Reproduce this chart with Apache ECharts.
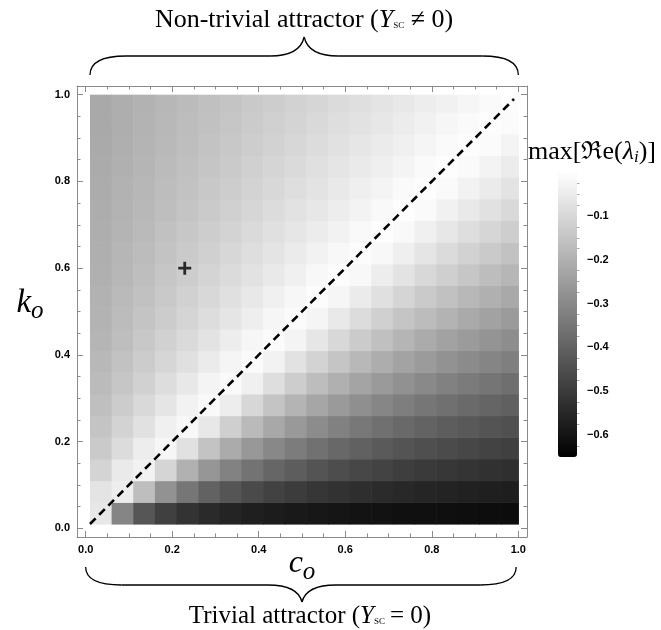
<!DOCTYPE html>
<html><head><meta charset="utf-8">
<script src="https://cdn.jsdelivr.net/npm/echarts@6/dist/echarts.min.js"></script>
<style>html,body{margin:0;padding:0;background:#fff}#c{width:661px;height:630px}</style>
</head><body><div id="c"></div>
<script>
// ---- data ----
const cCenters = [0.035,0.085,0.135,0.185,0.235,0.285,0.335,0.385,0.435,0.485,0.535,0.585,0.635,0.685,0.735,0.785,0.835,0.885,0.935,0.985];
const kCenters = [0.035,0.085,0.135,0.185,0.235,0.285,0.335,0.385,0.435,0.485,0.535,0.585,0.635,0.685,0.735,0.785,0.835,0.885,0.935,0.985];
// rows: k from low to high; columns: c from low to high  (max Re(lambda_i))
const values = [
[-0.060,-0.312,-0.430,-0.487,-0.520,-0.542,-0.558,-0.570,-0.579,-0.586,-0.592,-0.597,-0.601,-0.605,-0.608,-0.610,-0.613,-0.615,-0.617,-0.619],
[-0.070,-0.047,-0.165,-0.278,-0.349,-0.399,-0.434,-0.461,-0.482,-0.498,-0.512,-0.523,-0.533,-0.541,-0.549,-0.555,-0.561,-0.565,-0.570,-0.574],
[-0.109,-0.054,-0.032,-0.106,-0.200,-0.268,-0.319,-0.358,-0.389,-0.414,-0.435,-0.453,-0.468,-0.480,-0.491,-0.501,-0.509,-0.517,-0.524,-0.530],
[-0.134,-0.089,-0.045,-0.024,-0.077,-0.153,-0.215,-0.263,-0.303,-0.335,-0.362,-0.385,-0.404,-0.421,-0.436,-0.449,-0.460,-0.470,-0.479,-0.488],
[-0.151,-0.113,-0.076,-0.038,-0.019,-0.059,-0.123,-0.177,-0.223,-0.260,-0.292,-0.320,-0.343,-0.364,-0.382,-0.398,-0.412,-0.424,-0.436,-0.446],
[-0.164,-0.131,-0.098,-0.066,-0.033,-0.016,-0.047,-0.101,-0.150,-0.191,-0.228,-0.258,-0.285,-0.309,-0.329,-0.348,-0.365,-0.380,-0.393,-0.406],
[-0.174,-0.145,-0.116,-0.087,-0.058,-0.029,-0.014,-0.039,-0.085,-0.128,-0.167,-0.201,-0.231,-0.257,-0.281,-0.301,-0.320,-0.336,-0.352,-0.366],
[-0.181,-0.155,-0.130,-0.104,-0.078,-0.052,-0.026,-0.012,-0.033,-0.073,-0.112,-0.148,-0.180,-0.208,-0.234,-0.256,-0.277,-0.295,-0.312,-0.327],
[-0.188,-0.165,-0.141,-0.118,-0.094,-0.071,-0.047,-0.024,-0.010,-0.028,-0.064,-0.099,-0.132,-0.161,-0.189,-0.213,-0.236,-0.255,-0.274,-0.290],
[-0.194,-0.172,-0.151,-0.129,-0.108,-0.086,-0.065,-0.043,-0.022,-0.009,-0.025,-0.057,-0.089,-0.119,-0.147,-0.172,-0.195,-0.217,-0.236,-0.255],
[-0.197,-0.177,-0.158,-0.138,-0.118,-0.099,-0.079,-0.059,-0.039,-0.020,-0.008,-0.022,-0.051,-0.080,-0.108,-0.134,-0.158,-0.181,-0.201,-0.219],
[-0.201,-0.183,-0.165,-0.146,-0.128,-0.110,-0.092,-0.073,-0.055,-0.037,-0.018,-0.007,-0.019,-0.046,-0.072,-0.099,-0.123,-0.146,-0.167,-0.187],
[-0.204,-0.187,-0.170,-0.153,-0.136,-0.119,-0.102,-0.085,-0.068,-0.051,-0.034,-0.017,-0.007,-0.017,-0.042,-0.066,-0.091,-0.114,-0.135,-0.155],
[-0.207,-0.191,-0.175,-0.159,-0.143,-0.127,-0.111,-0.095,-0.080,-0.064,-0.048,-0.032,-0.016,-0.006,-0.015,-0.038,-0.061,-0.084,-0.105,-0.126],
[-0.210,-0.195,-0.180,-0.165,-0.150,-0.135,-0.120,-0.105,-0.090,-0.075,-0.060,-0.045,-0.030,-0.015,-0.006,-0.014,-0.035,-0.056,-0.077,-0.098],
[-0.212,-0.197,-0.183,-0.169,-0.155,-0.141,-0.127,-0.113,-0.099,-0.085,-0.071,-0.056,-0.042,-0.028,-0.014,-0.005,-0.013,-0.033,-0.052,-0.072],
[-0.214,-0.201,-0.188,-0.174,-0.161,-0.147,-0.134,-0.121,-0.107,-0.094,-0.080,-0.067,-0.054,-0.040,-0.027,-0.013,-0.005,-0.012,-0.030,-0.048],
[-0.216,-0.203,-0.191,-0.178,-0.165,-0.152,-0.140,-0.127,-0.114,-0.102,-0.089,-0.076,-0.064,-0.051,-0.038,-0.025,-0.013,-0.005,-0.011,-0.028],
[-0.218,-0.206,-0.194,-0.182,-0.169,-0.157,-0.145,-0.133,-0.121,-0.109,-0.097,-0.085,-0.073,-0.061,-0.048,-0.036,-0.024,-0.012,-0.005,-0.011],
[-0.219,-0.207,-0.196,-0.184,-0.173,-0.161,-0.150,-0.138,-0.127,-0.115,-0.104,-0.092,-0.081,-0.069,-0.058,-0.046,-0.035,-0.023,-0.012,-0.004]
];
const diagonalLine = [[0.01,0.01],[0.99,0.99]];
const markerPoint = [[0.229,0.600]];
const frameTicks = [0,0.2,0.4,0.6,0.8,1.0];
const frameMinorTicks = [0.05,0.1,0.15,0.25,0.3,0.35,0.45,0.5,0.55,0.65,0.7,0.75,0.85,0.9,0.95];
const barTicks = [-0.6,-0.5,-0.4,-0.3,-0.2,-0.1];
const barMinorTicks = [-0.625,-0.575,-0.55,-0.525,-0.475,-0.45,-0.425,-0.375,-0.35,-0.325,-0.275,-0.25,-0.225,-0.175,-0.15,-0.125,-0.075,-0.05,-0.025];
const valueMin = -0.65, valueMax = 0;

// ---- build ----
const cells = [];
kCenters.forEach((k,j)=>cCenters.forEach((c,i)=>cells.push([c,k,values[j][i]])));
const halfC = (cCenters[1]-cCenters[0])/2, halfK = (kCenters[1]-kCenters[0])/2;
const extLo = 0.01, extHi = 1.0;

const FRAME = '#8a8a8a';
const labelFont = {fontFamily:'Liberation Sans', fontWeight:'bold', fontSize:11, color:'#000'};
function frameAxis(pos, major, showLabel){
  return {
    type:'value', position:pos, min:-0.02, max:1.02, gridIndex:0,
    axisLine:{show:major, onZero:false, lineStyle:{color:FRAME, width:1}},
    splitLine:{show:false},
    axisTick:{show:true, inside:true, length: major?6:3.5, customValues: major?frameTicks:frameMinorTicks, lineStyle:{color:FRAME, width:1}},
    axisLabel: showLabel ? Object.assign({show:true, customValues: frameTicks, margin:7, formatter: v=>v.toFixed(1)}, labelFont) : {show:false}
  };
}

const option = {
  animation:false,
  backgroundColor:'#fff',
  grid:[
    {left:77, right:134, top:86, bottom:93, show:false},
    {left:558, top:172, width:19, height:285, show:false}
  ],
  xAxis:[
    frameAxis('bottom', true, true),
    frameAxis('bottom', false, false),
    frameAxis('top', true, false),
    frameAxis('top', false, false),
    {type:'value', gridIndex:1, show:false, min:0, max:1}
  ],
  yAxis:[
    frameAxis('left', true, true),
    frameAxis('left', false, false),
    frameAxis('right', true, false),
    frameAxis('right', false, false),
    {type:'value', gridIndex:1, position:'right', min:valueMin, max:valueMax,
     axisLine:{show:false}, splitLine:{show:false},
     axisTick:{show:true, inside:false, length:4, customValues:barTicks, lineStyle:{color:'#999'}},
     axisLabel:Object.assign({show:true, customValues:barTicks, margin:10, formatter:v=>'\u2212'+Math.abs(v).toFixed(1)}, labelFont)},
    {type:'value', gridIndex:1, position:'right', min:valueMin, max:valueMax,
     axisLine:{show:false}, splitLine:{show:false},
     axisTick:{show:true, inside:false, length:2.5, customValues:barMinorTicks, lineStyle:{color:'#aaa'}},
     axisLabel:{show:false}}
  ],
  visualMap:{
    type:'continuous', min:valueMin, max:valueMax, dimension:2, seriesIndex:0,
    calculable:false, orient:'vertical', left:558, top:172, itemWidth:19, itemHeight:285,
    padding:0, text:null, hoverLink:false, inRange:{color:['#000000','#ffffff']}
  },
  series:[
    {
      type:'custom', xAxisIndex:0, yAxisIndex:0, data:cells, encode:{x:0,y:1},
      renderItem:function(params, api){
        const c = api.value(0), k = api.value(1);
        const x0 = Math.max(c-halfC, extLo), x1 = Math.min(c+halfC, extHi);
        const y0 = Math.max(k-halfK, extLo), y1 = Math.min(k+halfK, extHi);
        const p0 = api.coord([x0,y1]), p1 = api.coord([x1,y0]);
        return {type:'rect', shape:{x:p0[0], y:p0[1], width:p1[0]-p0[0]+0.6, height:p1[1]-p0[1]+0.6},
                style:{fill:api.visual('color')}};
      },
      silent:true, z:1
    },
    {
      type:'line', xAxisIndex:0, yAxisIndex:0, data:diagonalLine, symbol:'none', silent:true,
      lineStyle:{color:'#000', width:2.6, type:[8,5]}, z:3
    },
    {
      type:'scatter', xAxisIndex:0, yAxisIndex:0, data:markerPoint, silent:true,
      symbol:'path://M-1.3,-6L1.3,-6L1.3,-1.3L6,-1.3L6,1.3L1.3,1.3L1.3,6L-1.3,6L-1.3,1.3L-6,1.3L-6,-1.3L-1.3,-1.3Z', symbolSize:13,
      itemStyle:{color:'#000'}, z:4
    }
  ]
};

const chart = echarts.init(document.getElementById('c'), null, {renderer:'canvas'});
chart.setOption(option);

// ---- annotations ----
const mctx = document.createElement('canvas').getContext('2d');
function textLine(parts, cx, cy){
  let total = 0;
  parts.forEach(p=>{
    p.family = p.family || 'Liberation Serif';
    mctx.font = (p.italic?'italic ':'') + p.size + 'px "' + p.family + '"';
    p.w = mctx.measureText(p.t).width; total += p.w;
  });
  let x = cx - total/2; const els = [];
  parts.forEach(p=>{
    els.push({type:'text', x:x, y:cy+(p.dy||0), silent:true,
      style:{text:p.t, fontSize:p.size, fontFamily:p.family, fontStyle:p.italic?'italic':'normal',
             fill:'#000', align:'left', verticalAlign:'middle'}});
    x += p.w;
  });
  return els;
}
const P = (x,y)=>chart.convertToPixel({gridIndex:0},[x,y]);
const L1 = P(0.01,0)[0], R1 = P(1.0,0)[0], M1 = P(0.505,0)[0];
const L2 = P(0.0,0)[0], R2 = P(0.995,0)[0], M2 = P(0.5,0)[0];
function brace(L,R,M,yEnd,yH,yTip){
  const st = {stroke:'#000', lineWidth:1.3, fill:null};
  const yS = yH+(yEnd-yH)*0.35, yT = yH+(yTip-yH)*0.3;
  const bz = (x1,y1,cx1,cy1,cx2,cy2,x2,y2)=>({type:'bezierCurve', silent:true,
    shape:{x1:x1,y1:y1,cpx1:cx1,cpy1:cy1,cpx2:cx2,cpy2:cy2,x2:x2,y2:y2}, style:st});
  const ln = (x1,y1,x2,y2)=>({type:'line', silent:true, shape:{x1:x1,y1:y1,x2:x2,y2:y2}, style:st});
  return [
    bz(L,yEnd, L,yS, L+12,yH, L+36,yH),
    ln(L+36,yH, M-34,yH),
    bz(M-34,yH, M-14,yH, M-3,yT, M,yTip),
    bz(M,yTip, M+3,yT, M+14,yH, M+34,yH),
    ln(M+34,yH, R-36,yH),
    bz(R-36,yH, R-12,yH, R,yS, R,yEnd)
  ];
}
const graphics = [];
brace(L1,R1,M1,75,56,37).forEach(e=>graphics.push(e));
brace(L2,R2,M2,567,585,602).forEach(e=>graphics.push(e));
textLine([{t:'Non-trivial attractor (',size:26},{t:'Y',size:26,italic:true},{t:'SC',size:9,dy:6},{t:' \u2260 0)',size:26}], 304, 20).forEach(e=>graphics.push(e));
textLine([{t:'Trivial attractor (',size:25},{t:'Y',size:25,italic:true},{t:'SC',size:9,dy:6},{t:'\u2009= 0)',size:25}], 310, 616).forEach(e=>graphics.push(e));
textLine([{t:'c',size:32,italic:true},{t:'o',size:25,italic:true,dy:8}], P(0.5,0)[0], 564).forEach(e=>graphics.push(e));
textLine([{t:'k',size:33,italic:true},{t:'o',size:25,italic:true,dy:8}], 30, 303).forEach(e=>graphics.push(e));
textLine([{t:'max[',size:26},{t:'\u211C',size:25,family:'DejaVu Serif'},{t:'e(',size:26},{t:'\u03BB',size:26,italic:true},{t:'i',size:17,italic:true,dy:6},{t:')]',size:26}], 592, 152).forEach(e=>graphics.push(e));
chart.setOption({graphic:{elements:graphics}});
</script>
</body></html>
